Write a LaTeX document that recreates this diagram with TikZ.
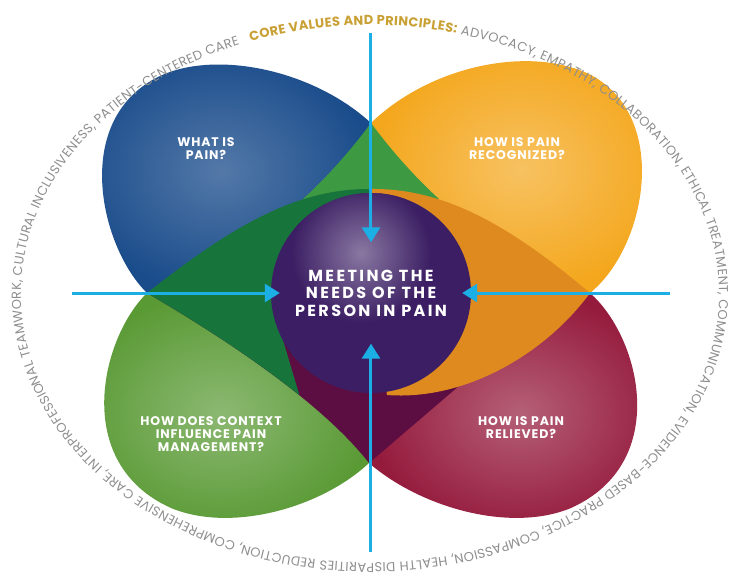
\documentclass[tikz,border=0pt]{standalone}
\usepackage{fontspec}
\setmainfont{Poppins}
\newfontfamily\labelfont[LetterSpace=7]{Poppins}
\newfontfamily\corefont[LetterSpace=15]{Poppins}
\usetikzlibrary{arrows.meta,decorations.text}
\definecolor{bluepetal}{HTML}{1A4C8B}
\definecolor{yellowpetal}{HTML}{F4A71D}
\definecolor{greenpetal}{HTML}{5A9A35}
\definecolor{redpetal}{HTML}{951B3D}
\definecolor{tipgreen}{HTML}{3E9A42}
\definecolor{darkgreen}{HTML}{17753B}
\definecolor{darkorange}{HTML}{DE8A1F}
\definecolor{maroon}{HTML}{5C0D42}
\definecolor{corepurple}{HTML}{3B1E63}
\definecolor{arrowblue}{HTML}{1CAFE5}
\definecolor{ringgray}{HTML}{8E8E8E}
\definecolor{ringgold}{HTML}{C9A033}
\begin{document}
\begin{tikzpicture}[x=1pt,y=1pt,
  question/.style={text=white,align=center,font=\labelfont\bfseries\fontsize{12.5}{13}\selectfont},
  inarrow/.style={draw=arrowblue,line width=3pt,-{Triangle[width=18pt,length=15pt]}}]
\useasboundingbox (-371,-291) rectangle (368,293);

\coordinate (O) at (0,0);
\coordinate (T) at (0,170);
\coordinate (L) at (-224,0);
\coordinate (R) at (219,0);
\coordinate (B) at (-2,-170);

\shade[inner color=bluepetal!75!white,outer color=bluepetal] (L) .. controls (-270,45) and (-300,170) .. (-215,215) .. controls (-160,244) and (-60,225) .. (T) -- (O) -- cycle;
\shade[inner color=yellowpetal!70!white,outer color=yellowpetal] (T) .. controls (60,228) and (160,248) .. (220,218) .. controls (300,175) and (275,45) .. (R) -- (O) -- cycle;
\shade[inner color=greenpetal!70!white,outer color=greenpetal] (L) .. controls (-270,-45) and (-300,-170) .. (-200,-215) .. controls (-140,-240) and (-50,-215) .. (B) -- (O) -- cycle;
\shade[inner color=redpetal!70!white,outer color=redpetal] (R) .. controls (270,-45) and (300,-170) .. (200,-215) .. controls (140,-240) and (50,-215) .. (B) -- (O) -- cycle;

\fill[tipgreen] (T) .. controls (-22,140) and (-48,112) .. (-68,94) -- (0,60) -- (68,94) .. controls (48,112) and (22,140) .. (T);
\fill[maroon] (L) .. controls (-130,-55) and (-45,-115) .. (B) -- (89,-92) -- (O) -- cycle;
\fill[darkgreen] (L) .. controls (-145,62) and (-78,105) .. (0,104) -- (O) -- (-91,-37) -- (-71.6,-102.2) .. controls (-114.4,-67.8) and (-167.6,-33) .. (L);
\fill[darkorange] (0,104) .. controls (78,105) and (145,62) .. (R) .. controls (175,-60) and (95,-108) .. (16,-102) -- (O) -- cycle;

\fill[corepurple] (O) circle (100);
\begin{scope}
\clip (O) circle (100);
\shade[inner color=corepurple!60!white,outer color=corepurple] (-10,40) circle (70);
\end{scope}

\node[question] (1) at (-165,144) {WHAT IS\\PAIN?};
\node[question] (2) at (146,144) {HOW IS PAIN\\RECOGNIZED?};
\node[question] (3) at (-160,-141) {HOW DOES CONTEXT\\INFLUENCE PAIN\\MANAGEMENT?};
\node[question] (4) at (150,-135) {HOW IS PAIN\\RELIEVED?};
\node[text=white,align=center,font=\corefont\bfseries\fontsize{16}{17.5}\selectfont,minimum width=182pt,minimum height=101pt] (0) at (O) {MEETING THE\\NEEDS OF THE\\PERSON IN PAIN};

\coordinate (t) at (0,260);
\coordinate (l) at (-299,0);
\coordinate (r) at (299,0);
\coordinate (b) at (0,-259);
\draw[inarrow] (t) -- (0);
\draw[inarrow] (l) -- (0);
\draw[inarrow] (r) -- (0);
\draw[inarrow] (b) -- (0);

\path[decorate,decoration={text along path,text align=fit to path,
  text={|\fontsize{13}{14}\selectfont\bfseries\color{ringgold}|CORE VALUES AND PRINCIPLES:|\fontsize{13}{14}\selectfont\color{ringgray}| ADVOCACY, EMPATHY, COLLABORATION, ETHICAL TREATMENT, COMMUNICATION, EVIDENCE-BASED PRACTICE, COMPASSION, HEALTH DISPARITIES REDUCTION, COMPREHENSIVE CARE, INTERPROFESSIONAL TEAMWORK, CULTURAL INCLUSIVENESS, PATIENT-CENTERED CARE}}]
  (-120.37,251.78) arc[start angle=110,end angle=-248,x radius=349,y radius=269];
\end{tikzpicture}
\end{document}
